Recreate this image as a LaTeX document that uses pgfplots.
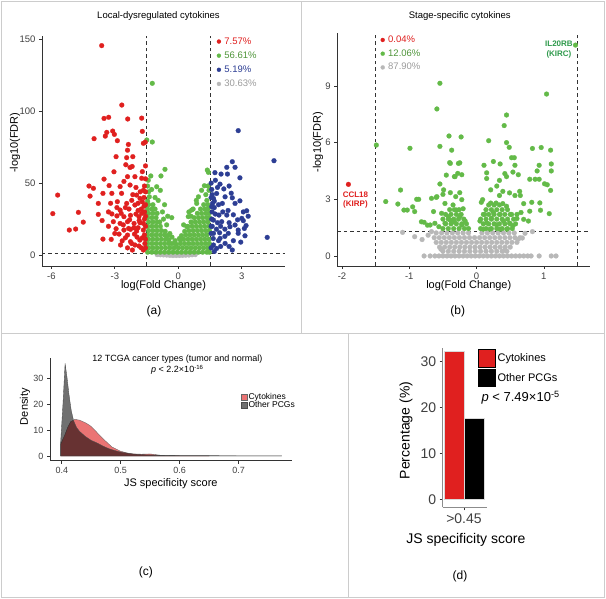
\documentclass[border=0pt]{standalone}
\usepackage{pgfplots}
\pgfplotsset{compat=1.18}
\usepackage{fontspec}
\setmainfont{Liberation Sans}
\definecolor{cred}{HTML}{E0201F}
\definecolor{cgreen}{HTML}{63BA48}
\definecolor{cblue}{HTML}{2D3E94}
\definecolor{cgray}{HTML}{B8B8B8}
\definecolor{lgreen}{HTML}{2F9A4C}
\definecolor{framec}{HTML}{CCCCCC}
\definecolor{axc}{HTML}{333333}
\newcommand{\fs}[1]{\fontsize{#1pt}{#1pt}\selectfont}
\pgfplotsset{
  base/.style={
    scale only axis, anchor=south west, clip=false,
    axis x line*=bottom, axis y line*=left,
    axis line style={axc, line width=0.8pt, -},
    tick align=outside, major tick length=3pt,
    tick style={axc, line width=0.7pt},
    /pgf/number format/assume math mode=true,
    ticklabel style={text=black!75},
  },
  pts/.style={only marks, mark=*, mark size=2.4pt, color=#1, fill=#1, mark options={solid, draw=#1, fill=#1, line width=0.25pt, line join=round}, forget plot},
  lim/.style={only marks, mark=*, mark size=2pt, color=#1, fill=#1, mark options={solid, draw=#1, fill=#1, line width=0.25pt, line join=round}},
  dline/.style={black!80, line width=0.7pt, dash pattern=on 3.5pt off 3pt, forget plot},
}
\begin{document}
\begin{tikzpicture}
\useasboundingbox (0,0) rectangle (606pt,598pt);
\fill[white] (0,0) rectangle (606pt,598pt);
\draw[framec, line width=0.8pt] (1pt,1pt) rectangle (604.5pt,597pt);
\draw[framec, line width=0.8pt] (1pt,265pt) -- (604.5pt,265pt);
\draw[framec, line width=0.8pt] (301.5pt,265pt) -- (301.5pt,597pt);
\draw[framec, line width=0.8pt] (348.5pt,1pt) -- (348.5pt,265pt);
\node[font=\fs{12}] at (154pt,287pt) {(a)};
\node[font=\fs{12}] at (457.7pt,287pt) {(b)};
\node[font=\fs{12}] at (145.8pt,25.3pt) {(c)};
\node[font=\fs{12}] at (460pt,22pt) {(d)};
\node[font=\fs{13}] at (520.6pt,200.3pt) {\textit{p} < 7.49×10\textsuperscript{-5}};

% ---------------- (a) ----------------
\begin{axis}[base,
  at={(42pt,332pt)}, width=243pt, height=230pt,
  xmin=-6.44, xmax=5.04, ymin=-7.6, ymax=152.3,
  xtick={-6,-3,0,3}, ytick={0,50,100,150},
  ticklabel style={font=\fs{9.5}},
  title={Local-dysregulated cytokines},
  title style={at={([xshift=-5pt,yshift=14.3pt]axis description cs:0.5,1)}, anchor=center, font=\fs{9.5}},
  xlabel={log(Fold Change)},
  xlabel style={at={([yshift=-20pt]axis description cs:0.5,0)}, anchor=center, font=\fs{11}},
  ylabel={-log10(FDR)},
  ylabel style={at={([xshift=-27pt,yshift=8.3pt]axis description cs:0,0.5)}, anchor=center, font=\fs{11}},
  legend style={at={(axis description cs:0.719,0.9965)}, anchor=north west, draw=none, fill=none, font=\fs{9.5}, inner sep=0pt, row sep=5pt, nodes={inner sep=0.5pt}},
  legend cell align=left,
  legend image code/.code={\draw[#1] plot coordinates {(0pt,0pt)};},
  /tikz/every odd column/.append style={column sep=3pt},
]
\addlegendimage{lim=cred}
\addlegendentry{\textcolor{cred}{7.57\%}}
\addlegendimage{lim=cgreen}
\addlegendentry{\textcolor{cgreen!80!black}{56.61\%}}
\addlegendimage{lim=cblue}
\addlegendentry{\textcolor{cblue}{5.19\%}}
\addlegendimage{lim=cgray}
\addlegendentry{\textcolor{cgray!85!black}{30.63\%}}
% gray
\addplot[pts=cgray] coordinates {(-1.0,0.3) (-0.85,0.2) (-0.7,0.1) (-0.55,0) (-0.4,-0.2) (-0.25,-0.3) (-0.1,-0.3) (0.05,-0.3) (0.2,-0.2) (0.35,-0.1) (0.5,0) (0.65,0.2) (0.8,0.3) (-0.9,0.8) (0.6,0.8)};
% green
\addplot[pts=cgreen] coordinates {
(-1.45,2) (-1.25,2) (-1.05,2) (-0.85,2) (-0.65,2) (-0.45,2) (-0.25,2) (-0.05,2) (0.15,2) (0.35,2) (0.55,2) (0.75,2) (0.95,2) (1.15,2) (1.35,2) (1.47,2)
(-1.4,5) (-1.2,5) (-1.0,5) (-0.8,5) (-0.6,5) (-0.4,5) (-0.2,5) (0,5) (0.2,5) (0.4,5) (0.6,5) (0.8,5) (1.0,5) (1.2,5) (1.4,5)
(-1.45,8) (-1.25,8) (-1.05,8) (-0.85,8) (-0.65,8) (-0.45,8) (-0.3,8) (-0.1,7.5) (0.1,8) (0.3,8) (0.5,8) (0.7,8) (0.9,8) (1.1,8) (1.3,8) (1.47,8)
(-1.4,11) (-1.2,11) (-1.0,11) (-0.8,11) (-0.6,11) (-0.45,10.5) (0.1,10.5) (0.25,11) (0.45,11) (0.65,11) (0.85,11) (1.05,11) (1.25,11) (1.45,11)
(-1.45,14) (-1.25,14) (-1.05,14) (-0.85,14) (-0.65,14) (-0.5,13.5) (0.15,13.5) (0.35,14) (0.55,14) (0.75,14) (0.95,14) (1.15,14) (1.35,14)
(-1.4,17) (-1.2,17) (-1.0,17) (-0.8,17) (-0.62,16.5) (0.3,16.5) (0.5,17) (0.7,17) (0.9,17) (1.1,17) (1.3,17) (1.47,17)
(-1.45,20) (-1.25,20) (-1.05,20) (-0.85,20) (0.45,20) (0.65,20) (0.85,20) (1.05,20) (1.25,20) (1.45,20)
(-1.4,23) (-1.2,23) (-1.0,23) (-0.88,23) (0.6,23) (0.8,23) (1.0,23) (1.2,23) (1.4,23)
(-1.45,26) (-1.25,26) (-1.05,26) (0.75,26) (0.95,26) (1.15,26) (1.35,26) (1.47,26)
(-1.4,29) (-1.2,29) (-1.0,29) (0.9,29) (1.1,29) (1.3,29) (1.45,29)
(-1.45,32) (-1.25,32) (-1.1,32) (1.05,32) (1.25,32) (1.4,32)
(-1.4,35) (-1.2,35) (1.2,35) (1.4,35)
(-1.23,119.4) (-1.23,78.6) (-1.49,80) (-0.63,59.6) (1.37,59.1) (1.42,57.5) (1.23,48.2) (-0.82,55) (-1.02,47.5) (-1.26,45.6) (-1.37,40.5) (-1.45,37.5) (0.95,40.5) (0.87,35.9) (0.63,31.3) (0.47,26.7) (0.4,19.7) (-1.45,48) (-1.4,44) (-1.1,40) (-0.95,38) (-0.75,30) (-0.7,25) (-0.55,21) (-0.4,15) (-0.65,35) (-0.85,45) (-1.3,55) (-1.42,52) (-0.5,27) (-0.3,12.5) (0.25,21) (0.5,30) (0.7,32) (0.85,38) (1.1,45) (1.3,42) (1.45,45) (1.35,38) (0.6,27) (0.05,11.5) (-0.15,10) (1.4,48) (-0.31,26)
};
% red
\addplot[pts=cred] coordinates {
(-3.62,145.6) (-2.67,104.3) (-3.51,95) (-3.29,95.8) (-2.39,94.6) (-1.73,95.2) (-3.98,80.9) (-3.38,85.3) (-3.10,86.2) (-3.02,83.9) (-3.45,82.7) (-2.88,79.5) (-1.70,86) (-1.65,77.7) (-1.56,78.5) (-2.36,76.9) (-2.40,72.9) (-2.94,68.4) (-2.44,67.7) (-2.15,68.4) (-2.48,62.8) (-2.28,60.9) (-2.18,61.6) (-3.04,57.9) (-2.40,54.5) (-2.05,54.5) (-1.73,53.4) (-3.51,52.8) (-2.57,51.2) (-4.22,48) (-4.01,46.4) (-3.27,48.3) (-2.75,47.6) (-2.28,48.7) (-5.70,41.7) (-4.17,41) (-3.56,42.9) (-3.14,42.9) (-2.68,42.9) (-1.97,41.7) (-1.81,39.4) (-3.78,35.9) (-2.88,37.1) (-2.44,35.9) (-2.05,34.8) (-2.75,31.3) (-2.33,32) (-4.72,29.7) (-5.93,28.8) (-3.78,28.3) (-3.14,28.6) (-2.90,27.2) (-2.57,26.7) (-2.26,27.6) (-1.86,26.7) (-1.73,29) (-4.49,22.9) (-3.07,23.2) (-2.75,22) (-2.40,23.2) (-2.09,22) (-1.81,22.5) (-5.15,17.4) (-4.85,18.1) (-2.94,18.3) (-2.57,17.4) (-2.26,17.9) (-1.97,16.7) (-1.65,17.4) (-2.80,14.6) (-2.40,13.9) (-2.07,14.6) (-3.56,11.1) (-3.17,10.9) (-2.65,9.9) (-2.26,9.3) (-1.82,10.4) (-2.73,7) (-2.17,3.5) (-1.86,6.3) (-1.65,3.5)
(-1.6,30) (-1.6,25) (-1.55,20) (-1.6,14) (-1.7,12) (-1.58,8) (-1.75,5) (-1.9,31) (-2.0,28.5) (-2.1,19) (-1.95,12.5) (-2.2,8) (-2.35,18.5) (-2.5,12) (-2.6,21) (-2.7,29) (-2.5,33) (-2.2,38) (-1.9,36) (-1.62,40) (-1.62,34) (-1.8,44) (-2.0,47) (-2.15,42) (-1.55,44) (-1.6,48) (-1.7,58) (-1.55,62) (-1.85,24) (-2.3,24.5) (-3.0,15) (-3.3,20) (-2.9,33) (-3.2,36) (-3.6,24) (-3.3,30) (-1.55,11) (-1.55,5) (-1.65,22) (-1.75,32) (-1.7,37) (-1.9,19) (-2.05,7) (-2.4,5) (-1.55,27) (-1.55,35) (-1.55,53) (-1.65,45)
};
% blue
\addplot[pts=cblue] coordinates {
(2.83,86.5) (4.52,65.6) (2.29,61) (2.55,64.9) (2.68,61) (2.91,53.7) (1.73,57.3) (2.02,56.3) (2.32,56.3) (1.97,49.3) (1.58,45.6) (1.81,42.8) (2.21,40.5) (2.55,39.8) (2.91,37.7) (3.23,30.8) (3.07,30) (2.68,35.9) (2.08,35.9) (1.66,39.4) (1.58,33.6) (1.92,27.8) (2.29,27.8) (1.66,24.3) (2.05,23.2) (2.68,20.9) (2.44,19.7) (3.07,23.9) (3.12,18.5) (2.83,15.1) (4.20,12.3) (1.66,15.1) (1.97,11.6) (2.21,8.1) (2.55,3.5) (1.66,7) (1.81,4.6) (2.36,15.1) (3.15,13.4) (2.83,17.4)
(1.6,42) (1.7,37.5) (1.6,30) (1.75,28.5) (1.6,20) (1.8,18) (1.65,11.5) (1.9,10) (1.55,5) (1.7,33) (1.9,35) (2.1,30) (2.0,20) (2.2,18) (2.4,22.5) (2.6,28) (2.8,24.5) (2.6,10) (2.4,6) (2.0,6) (1.55,15) (1.58,25) (1.62,36) (1.85,47) (2.15,46) (2.4,48) (2.5,43) (1.75,52) (3.0,25.5) (3.3,27) (3.2,20.5) (2.95,9) (1.55,50) (1.55,40) (1.55,20) (1.7,2.5) (1.85,22.5) (2.2,13) (1.95,15.5) (2.35,31)
};
\addplot[dline] coordinates {(-1.5,-7.6) (-1.5,152.3)};
\addplot[dline] coordinates {(1.5,-7.6) (1.5,152.3)};
\addplot[dline] coordinates {(-6.44,1.3) (5.04,1.3)};
\end{axis}

% ---------------- (b) ----------------
\begin{axis}[base,
  at={(337.3pt,332pt)}, width=253pt, height=233pt,
  xmin=-2.07, xmax=1.69, ymin=-0.53, ymax=11.8,
  xtick={-2,-1,0,1}, ytick={0,3,6,9},
  ticklabel style={font=\fs{9.5}},
  title={Stage-specific cytokines},
  title style={at={([xshift=-4pt,yshift=11.3pt]axis description cs:0.5,1)}, anchor=center, font=\fs{9.5}},
  xlabel={log(Fold Change)},
  xlabel style={at={([xshift=5pt,yshift=-20pt]axis description cs:0.5,0)}, anchor=center, font=\fs{11}},
  ylabel={-log10(FDR)},
  ylabel style={at={([xshift=-19.3pt,yshift=7.5pt]axis description cs:0,0.5)}, anchor=center, font=\fs{11}},
  legend style={at={(axis description cs:0.1708,0.9906)}, anchor=north west, draw=none, fill=none, font=\fs{9.5}, inner sep=0pt, row sep=4.6pt, nodes={inner sep=0.5pt}},
  legend cell align=left,
  legend image code/.code={\draw[#1] plot coordinates {(0pt,0pt)};},
  /tikz/every odd column/.append style={column sep=3pt},
]
\addlegendimage{lim=cred}
\addlegendentry{\textcolor{cred}{0.04\%}}
\addlegendimage{lim=cgreen}
\addlegendentry{\textcolor{cgreen!80!black}{12.06\%}}
\addlegendimage{lim=cgray}
\addlegendentry{\textcolor{cgray!85!black}{87.90\%}}
% gray
\addplot[pts=cgray] coordinates {
(-0.78,0) (-0.69,0) (-0.62,0) (-0.56,0) (-0.5,0) (-0.44,0) (-0.38,0) (-0.32,0) (-0.26,0) (-0.2,0) (-0.14,0) (-0.08,0) (-0.02,0) (0.04,0) (0.1,0) (0.16,0) (0.22,0) (0.28,0) (0.34,0) (0.4,0) (0.46,0) (0.52,0) (0.58,0) (0.64,0) (0.7,0) (0.76,0) (0.81,0) (0.93,0) (1.11,0) (1.18,0)
(-0.5,0.25) (-0.42,0.25) (-0.34,0.25) (-0.26,0.25) (-0.18,0.25) (-0.1,0.25) (-0.02,0.25) (0.06,0.25) (0.14,0.25) (0.22,0.25) (0.3,0.25) (0.38,0.25) (0.45,0.25)
(-0.55,0.47) (-0.475,0.47) (-0.4,0.47) (-0.325,0.47) (-0.25,0.47) (-0.175,0.47) (-0.1,0.47) (-0.025,0.47) (0.05,0.47) (0.125,0.47) (0.2,0.47) (0.275,0.47) (0.35,0.47) (0.425,0.47) (0.5,0.47)
(-0.6,0.72) (-0.525,0.72) (-0.45,0.72) (-0.375,0.72) (-0.3,0.72) (-0.225,0.72) (-0.15,0.72) (-0.075,0.72) (0,0.72) (0.075,0.72) (0.15,0.72) (0.225,0.72) (0.3,0.72) (0.375,0.72) (0.45,0.72) (0.525,0.72) (0.6,0.72)
(-0.63,0.97) (-0.555,0.97) (-0.48,0.97) (-0.405,0.97) (-0.33,0.97) (-0.255,0.97) (-0.18,0.97) (-0.105,0.97) (-0.03,0.97) (0.045,0.97) (0.12,0.97) (0.195,0.97) (0.27,0.97) (0.345,0.97) (0.42,0.97) (0.495,0.97) (0.57,0.97) (0.645,0.97)
(-0.6,1.22) (-0.52,1.22) (-0.44,1.22) (-0.36,1.22) (-0.28,1.22) (-0.2,1.22) (-0.12,1.22) (0.08,1.22) (0.16,1.22) (0.24,1.22) (0.32,1.22) (0.4,1.22) (0.48,1.22) (0.56,1.22)
(-1.10,1.25) (-0.92,1.02) (-0.81,0.87) (-0.67,1.29) (-0.72,1.1) (0.83,1.29) (0.62,0.89) (0.68,0.95) (0.72,1.2) (-0.53,0.36) (0.42,0.31)
};
% green
\addplot[pts=cgreen] coordinates {
(1.47,11.16) (1.04,8.57) (0.445,7.46) (0.41,6.9) (0.18,6.1) (0.445,6.0) (0.485,5.75) (0.83,5.69) (0.96,5.74) (1.1,5.6) (0.52,5.2) (0.56,5.2) (0.25,5.0) (0.35,4.87) (0.11,4.8) (0.57,4.8) (0.93,4.8) (1.11,4.87) (1.11,4.5) (0.90,4.5) (0.15,4.4) (0.42,4.36) (0.54,4.44) (0.62,4.3) (0.445,4.2) (0.34,4.0) (0.15,4.1) (0.79,4.06) (0.87,4.06) (0.93,4.06) (1.01,3.82) (1.05,3.77) (1.10,3.47) (0.30,3.7) (0.39,3.42) (0.49,3.34) (0.57,3.2) (0.64,3.42) (0.65,3.2) (0.34,3.2) (0.21,3.5) (0.09,2.98) (0.07,2.84) (0.21,2.8) (0.29,2.8) (0.39,2.77) (0.445,2.63) (0.70,2.77) (0.82,2.84) (0.94,2.81) (0.95,2.42) (1.08,2.24) (0.66,2.3) (0.79,2.37) (0.52,2.2) (0.60,1.98) (0.70,1.94) (0.77,1.85) (0.25,2.3) (0.35,2.2) (0.12,2.2) (0.05,1.85) (0.15,1.75) (0.22,2.0) (0.40,1.85) (0.49,1.74) (0.54,1.6) (0.30,1.65) (0.10,1.42) (0.20,1.42) (0.35,1.42) (0.45,1.42)
(-0.545,9.14) (-0.59,7.78) (-1.49,5.87) (-0.99,5.7) (-0.545,5.8) (-0.41,6.35) (-0.23,6.3) (-0.37,5.6) (-0.39,4.9) (-0.25,4.93) (-0.32,4.2) (-0.22,4.3) (-0.545,3.81) (-1.13,3.49) (-1.35,2.88) (-1.17,2.75) (-1.08,2.43) (-1.03,2.43) (-0.95,2.6) (-0.92,2.35) (-0.89,3.0) (-0.86,3.0) (-0.67,3.05) (-0.59,3.14) (-0.50,3.26) (-0.39,3.35) (-0.31,3.14) (-0.47,2.78) (-0.35,2.7) (-0.30,2.43) (-0.64,2.35) (-0.52,2.26) (-0.42,2.08) (-0.78,1.78) (-0.69,1.64) (-0.62,1.73) (-0.56,1.55) (-0.47,1.73) (-0.39,1.90) (-0.33,1.8) (-0.25,2.08) (-0.22,1.64) (-0.20,2.5) (-0.17,1.85) (-0.22,2.98) (-0.25,3.35) (-0.27,4.9) (-0.28,4.37) (-0.33,4.2) (-0.45,4.28) (-0.40,4.94) (-0.6,3.1) (-0.49,3.5) (-0.82,1.81) (-0.73,1.63)
(-0.5,1.45) (-0.42,1.45) (-0.34,1.45) (-0.26,1.45) (-0.18,1.45) (-0.12,1.45) (-0.46,1.7) (-0.38,1.7) (-0.3,1.7) (-0.22,1.7) (-0.15,1.7) (-0.5,1.95) (-0.42,1.95) (-0.34,1.95) (-0.27,1.95) (-0.19,1.95) (-0.46,2.2) (-0.38,2.2) (-0.3,2.2) (-0.23,2.2) (-0.4,2.45) (-0.33,2.45) (-0.26,2.45)
(0.06,1.45) (0.14,1.45) (0.22,1.45) (0.3,1.45) (0.38,1.45) (0.46,1.45) (0.53,1.45) (0.1,1.7) (0.18,1.7) (0.26,1.7) (0.34,1.7) (0.42,1.7) (0.5,1.7) (0.58,1.7) (0.06,1.95) (0.14,1.95) (0.22,1.95) (0.3,1.95) (0.38,1.95) (0.46,1.95) (0.55,1.95) (0.1,2.2) (0.18,2.2) (0.26,2.2) (0.34,2.2) (0.42,2.2) (0.5,2.2) (0.6,2.2) (0.14,2.45) (0.22,2.45) (0.3,2.45) (0.38,2.45) (0.46,2.45) (0.18,2.7) (0.26,2.7) (0.34,2.7)
};
% red
\addplot[pts=cred] coordinates {(-1.905,3.79)};
\addplot[dline] coordinates {(-1.5,-0.53) (-1.5,11.8)};
\addplot[dline] coordinates {(1.5,-0.53) (1.5,11.8)};
\addplot[dline] coordinates {(-2.07,1.3) (1.69,1.3)};
\node[align=center, font=\bfseries\fontsize{8pt}{10pt}\selectfont, text=lgreen, inner sep=0pt] at (axis cs:1.224,10.9) {IL20RB\\(KIRC)};
\node[align=center, font=\bfseries\fontsize{8pt}{9pt}\selectfont, text=cred, inner sep=0pt] at (axis cs:-1.80,2.96) {CCL18\\(KIRP)};
\end{axis}

% ---------------- (c) ----------------
\begin{axis}[base,
  at={(50pt,137.3pt)}, width=241.7pt, height=102.4pt,
  xmin=0.38, xmax=0.79, ymin=-1.8, ymax=37.6,
  xtick={0.4,0.5,0.6,0.7}, ytick={0,10,20,30},
  ticklabel style={font=\fs{9}},
  xlabel={JS specificity score},
  xlabel style={at={([yshift=-22.6pt]axis description cs:0.5,0)}, anchor=center, font=\fs{11}},
  ylabel={Density},
  ylabel style={at={([xshift=-25pt,yshift=2.8pt]axis description cs:0,0.5)}, anchor=center, font=\fs{11}},
  legend style={at={(axis description cs:0.788,0.656)}, anchor=north west, draw=none, fill=none, font=\fs{8.5}, inner sep=0pt, row sep=0.3pt, nodes={inner sep=0pt}},
  legend cell align=left,
  legend image code/.code={\draw[#1] (0pt,-3pt) rectangle (6pt,3pt);},
  /tikz/every odd column/.append style={column sep=1.5pt},
]
\addplot[fill=cred, fill opacity=0.62, draw=black!60, line width=0.35pt] coordinates {
(0.398,0) (0.398,4.5) (0.405,8) (0.41,11) (0.415,13.2) (0.4226,14.1) (0.43,13.8) (0.44,12.8) (0.448,11.7) (0.455,10.2) (0.462,8.5) (0.473,6) (0.485,3.5) (0.499,1.9) (0.51,1.2) (0.521,0.8) (0.535,0.7) (0.55,0.8) (0.56,0.5) (0.567,0.2) (0.6,0.1) (0.65,0.05) (0.65,0) (0.398,0)} \closedcycle;
\addlegendentry{Cytokines}
\addplot[fill=black, fill opacity=0.56, draw=black!70, line width=0.35pt] coordinates {
(0.398,0) (0.398,5) (0.402,20) (0.4056,35.6) (0.409,30) (0.412,24) (0.416,17.5) (0.42,13.6) (0.425,11) (0.43,9.5) (0.44,7.5) (0.45,6) (0.46,5) (0.47,3.8) (0.48,2.8) (0.49,2.1) (0.5,1.5) (0.52,0.8) (0.54,0.5) (0.56,0.35) (0.6,0.2) (0.65,0.15) (0.7,0.1) (0.773,0.05) (0.773,0) (0.398,0)} \closedcycle;
\addlegendentry{Other PCGs}
\node[align=center, font=\fontsize{9pt}{11pt}\selectfont, inner sep=0pt] at (axis cs:0.596,35.0) {12 TCGA cancer types (tumor and normal)\\\textit{p} < 2.2×10\textsuperscript{-16}};
\end{axis}

% ---------------- (d) ----------------
\begin{axis}[base,
  at={(442.7pt,90.7pt)}, width=44pt, height=159pt,
  xmin=-0.486, xmax=0.518, ymin=-1.74, ymax=32.9,
  axis line style={black!45, line width=0.8pt, -},
  xtick={0}, xticklabels={>0.45}, ytick={0,10,20,30},
  ticklabel style={font=\fs{14}},
  xlabel={JS specificity score},
  xlabel style={at={([xshift=1.1pt,yshift=-32.7pt]axis description cs:0.5,0)}, anchor=center, font=\fs{14}},
  ylabel={Percentage (\%)},
  ylabel style={at={([xshift=-36.7pt,yshift=-2.7pt]axis description cs:0,0.5)}, anchor=center, font=\fs{14}},
  legend style={at={(axis description cs:0.795,0.9956)}, anchor=north west, draw=none, fill=none, font=\fs{11}, inner sep=0pt, row sep=1.6pt, nodes={inner sep=0pt}},
  legend cell align=left,
  legend image code/.code={\fill[#1] (0pt,-8.8pt) rectangle (17.3pt,8.8pt);},
  /tikz/every odd column/.append style={column sep=2pt},
]
\addplot[ybar, bar width=19.7pt, bar shift=-9.85pt, fill=cred, draw=black!15, forget plot] coordinates {(0,32.3)};
\addplot[ybar, bar width=19.7pt, bar shift=9.85pt, fill=black, draw=black!15, forget plot] coordinates {(0,17.7)};
\addlegendimage{fill=cred}
\addlegendentry{Cytokines}
\addlegendimage{fill=black}
\addlegendentry{Other PCGs}
\end{axis}
\end{tikzpicture}
\end{document}
